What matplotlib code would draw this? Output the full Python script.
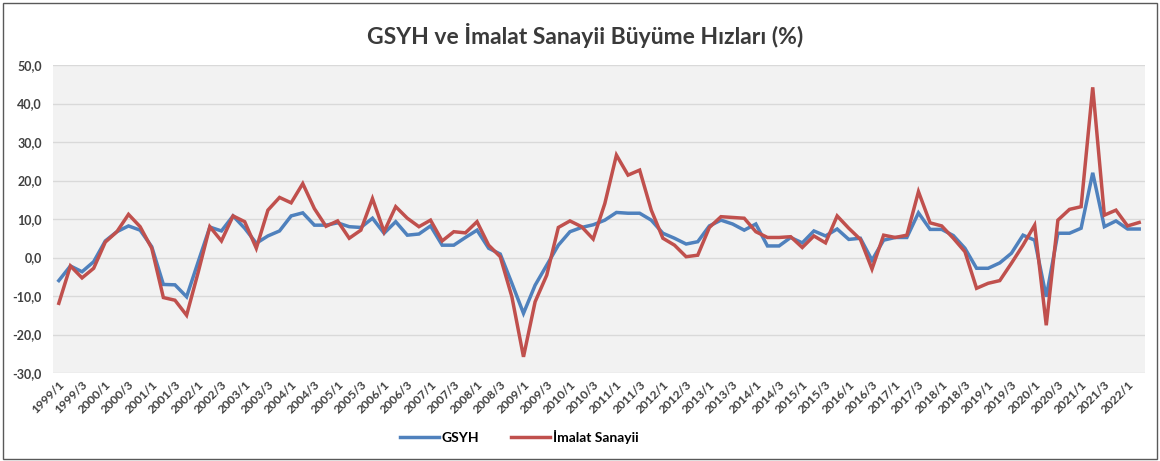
import numpy as np
import matplotlib.pyplot as plt
from matplotlib.patches import Rectangle

plt.rcParams['font.family'] = ['Lato', 'DejaVu Sans']

# quarters 1999/1 .. 2022/2
years = range(1999, 2023)
quarters = [f'{y}/{q}' for y in years for q in range(1, 5)][:94]

gsyh = [-6.0, -2.2, -3.7, -1.1, 4.3, 6.7, 8.2, 7.1,
        2.8, -7.0, -7.1, -10.2, -1.1, 7.9, 6.9, 10.8,
        7.6, 3.7, 5.6, 6.9, 10.8, 11.6, 8.4, 8.4,
        9.0, 8.0, 7.8, 10.2, 6.3, 9.3, 5.8, 6.1,
        8.2, 3.2, 3.2, 5.2, 7.1, 2.4, 0.9, -6.7,
        -14.5, -7.2, -2.0, 3.2, 6.7, 7.8, 8.5, 9.7,
        11.7, 11.5, 11.5, 9.7, 6.3, 5.0, 3.5, 4.1,
        8.2, 9.7, 8.7, 7.1, 8.7, 3.0, 3.0, 5.2,
        3.8, 6.9, 5.6, 7.4, 4.7, 5.0, -0.7, 4.5,
        5.2, 5.2, 11.6, 7.3, 7.3, 5.7, 2.4, -2.8,
        -2.8, -1.4, 1.1, 5.8, 4.5, -10.2, 6.3, 6.3,
        7.6, 22.0, 8.0, 9.5, 7.4, 7.4]

imalat = [-11.9, -2.2, -5.3, -2.8, 4.0, 6.7, 11.2, 8.0,
          2.4, -10.4, -11.1, -15.0, -3.8, 8.0, 4.3, 10.8,
          9.3, 2.4, 12.3, 15.6, 14.2, 19.2, 12.7, 8.1,
          9.5, 5.0, 7.1, 15.3, 6.7, 13.2, 10.2, 8.0,
          9.7, 4.3, 6.7, 6.4, 9.3, 3.2, 0.2, -10.2,
          -25.8, -11.5, -4.6, 7.8, 9.5, 8.0, 4.8, 14.0,
          26.6, 21.4, 22.7, 12.3, 5.0, 3.2, 0.2, 0.6,
          7.8, 10.6, 10.4, 10.2, 6.7, 5.2, 5.2, 5.4,
          2.6, 5.6, 3.8, 10.8, 7.6, 4.7, -3.0, 5.8,
          5.2, 5.8, 17.1, 9.0, 8.2, 5.0, 1.5, -8.0,
          -6.7, -6.0, -1.5, 3.2, 8.4, -17.6, 9.7, 12.5,
          13.2, 44.2, 11.0, 12.3, 8.2, 9.1]

blue = '#4F81BD'
red = '#C0504D'
txt = '#404040'

fig = plt.figure(figsize=(11.6, 4.61), dpi=100)
ax = fig.add_axes([53 / 1160, 1 - 373 / 461, (1145 - 53) / 1160, (373 - 65) / 461])
ax.set_facecolor('#F2F2F2')

x = np.arange(len(quarters))
ax.plot(x, gsyh, color=blue, lw=2.5, label='GSYH', solid_joinstyle='miter')
ax.plot(x, imalat, color=red, lw=2.5, label='İmalat Sanayii', solid_joinstyle='miter')

ax.set_xlim(-0.5, len(quarters) - 0.5)
ax.set_ylim(-30, 50)
ax.set_yticks(np.arange(-30, 51, 10))
ax.set_yticklabels([f'{v:.1f}'.replace('.', ',') for v in np.arange(-30, 51, 10)])
ax.grid(axis='y', color='#D9D9D9', lw=1)
ax.set_axisbelow(True)
for s in ax.spines.values():
    s.set_visible(False)
ax.tick_params(axis='both', length=0, colors=txt)
ax.tick_params(axis='y', pad=8, labelsize=9)

ax.set_xticks(x[::2])
ax.set_xticklabels(quarters[::2], rotation=45, ha='right', rotation_mode='anchor',
                   fontsize=8.7)
ax.tick_params(axis='x', pad=4)
for lab in ax.get_xticklabels() + ax.get_yticklabels():
    lab.set_fontweight('bold')
    lab.set_color(txt)

fig.text(585 / 1160, 1 - 35 / 461, 'GSYH ve İmalat Sanayii Büyüme Hızları (%)',
         ha='center', va='center', fontsize=16.5, fontweight='bold', color='#3a3a3a')

leg = fig.legend(loc='center', bbox_to_anchor=(519 / 1160, 1 - 437 / 461), ncol=2,
                 frameon=False, handlelength=2.8, columnspacing=2.3,
                 handletextpad=0.2, prop={'weight': 'bold', 'size': 10})
for t in leg.get_texts():
    t.set_color('black')

fig.patches.append(Rectangle((3 / 1160, 2 / 461), 1154 / 1160, 456 / 461,
                             transform=fig.transFigure, fill=False,
                             edgecolor='#595959', lw=1))

fig.savefig('out.png', dpi=100, facecolor='white')
